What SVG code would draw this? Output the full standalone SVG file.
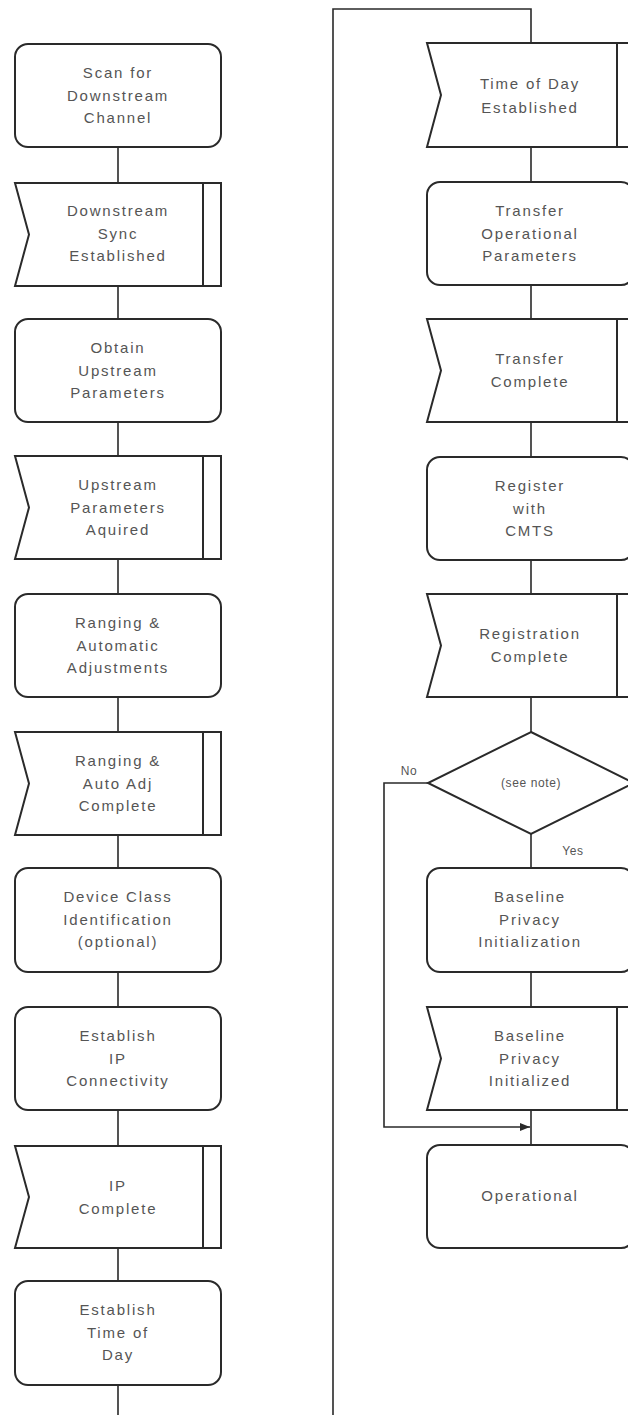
<svg xmlns="http://www.w3.org/2000/svg" width="628" height="1415" viewBox="0 0 628 1415">
<style>
.box{fill:#fff;stroke:#2a2a2a;stroke-width:2}
.in{stroke:#2a2a2a;stroke-width:2;fill:none}
.c{stroke:#2a2a2a;stroke-width:1.6;fill:none}
text{font-family:"Liberation Sans",Arial,sans-serif;font-size:15px;fill:#555;text-anchor:middle;letter-spacing:1.8px}
.sm{font-size:12px;letter-spacing:0.6px}
</style>
<defs>
<marker id="ah" markerWidth="10" markerHeight="8" refX="10" refY="4" orient="auto" markerUnits="userSpaceOnUse">
<path d="M0,0 L10,4 L0,8 Z" fill="#2a2a2a"/>
</marker>
</defs>
<rect width="628" height="1415" fill="#fff"/>
<g id="connectors">
<path class="c" d="M118,147V183M118,286V319M118,422V456M118,559V594M118,697V732M118,835V868M118,972V1007M118,1110V1146M118,1249V1281M118,1385V1415"/>
<path class="c" d="M333,1415V9H531V43M531,147V182M531,285V319M531,422V457M531,560V594M531,697V732M531,834V868M531,972V1007M531,1110V1145"/>
<path class="c" d="M428,783H384V1127H530" marker-end="url(#ah)"/>
<text class="sm" x="409" y="775">No</text>
<text class="sm" x="573" y="855">Yes</text>
</g>
<g id="n1"><rect class="box" x="15" y="44" width="206" height="103" rx="13"/><text x="118" y="78">Scan for</text><text x="118" y="101">Downstream</text><text x="118" y="123">Channel</text></g>
<g id="n2"><path class="box" d="M15,183H221V286H15L29,234.5Z"/><path class="in" d="M203,183V286"/><text x="118" y="216">Downstream</text><text x="118" y="239">Sync</text><text x="118" y="261">Established</text></g>
<g id="n3"><rect class="box" x="15" y="319" width="206" height="103" rx="13"/><text x="118" y="353">Obtain</text><text x="118" y="376">Upstream</text><text x="118" y="398">Parameters</text></g>
<g id="n4"><path class="box" d="M15,456H221V559H15L29,507.5Z"/><path class="in" d="M203,456V559"/><text x="118" y="490">Upstream</text><text x="118" y="513">Parameters</text><text x="118" y="535">Aquired</text></g>
<g id="n5"><rect class="box" x="15" y="594" width="206" height="103" rx="13"/><text x="118" y="628">Ranging &amp;</text><text x="118" y="651">Automatic</text><text x="118" y="673">Adjustments</text></g>
<g id="n6"><path class="box" d="M15,732H221V835H15L29,783.5Z"/><path class="in" d="M203,732V835"/><text x="118" y="766">Ranging &amp;</text><text x="118" y="789">Auto Adj</text><text x="118" y="811">Complete</text></g>
<g id="n7"><rect class="box" x="15" y="868" width="206" height="104" rx="13"/><text x="118" y="902">Device Class</text><text x="118" y="925">Identification</text><text x="118" y="947">(optional)</text></g>
<g id="n8"><rect class="box" x="15" y="1007" width="206" height="103" rx="13"/><text x="118" y="1041">Establish</text><text x="118" y="1064">IP</text><text x="118" y="1086">Connectivity</text></g>
<g id="n9"><path class="box" d="M15,1146H221V1248H15L29,1197Z"/><path class="in" d="M203,1146V1248"/><text x="118" y="1191">IP</text><text x="118" y="1214">Complete</text></g>
<g id="n10"><rect class="box" x="15" y="1281" width="206" height="104" rx="13"/><text x="118" y="1315">Establish</text><text x="118" y="1338">Time of</text><text x="118" y="1360">Day</text></g>
<g id="r1"><path class="box" d="M427,43H634V147H427L441,95Z"/><path class="in" d="M617,43V147"/><text x="530" y="89">Time of Day</text><text x="530" y="113">Established</text></g>
<g id="r2"><rect class="box" x="427" y="182" width="207" height="103" rx="13"/><text x="530" y="216">Transfer</text><text x="530" y="239">Operational</text><text x="530" y="261">Parameters</text></g>
<g id="r3"><path class="box" d="M427,319H634V422H427L441,370.5Z"/><path class="in" d="M617,319V422"/><text x="530" y="364">Transfer</text><text x="530" y="387">Complete</text></g>
<g id="r4"><rect class="box" x="427" y="457" width="207" height="103" rx="13"/><text x="530" y="491">Register</text><text x="530" y="514">with</text><text x="530" y="536">CMTS</text></g>
<g id="r5"><path class="box" d="M427,594H634V697H427L441,645.5Z"/><path class="in" d="M617,594V697"/><text x="530" y="639">Registration</text><text x="530" y="662">Complete</text></g>
<g id="d1"><path class="box" d="M531,732L634,783L531,834L428,783Z"/><text class="sm" x="531" y="787">(see note)</text></g>
<g id="r6"><rect class="box" x="427" y="868" width="207" height="104" rx="13"/><text x="530" y="902">Baseline</text><text x="530" y="925">Privacy</text><text x="530" y="947">Initialization</text></g>
<g id="r7"><path class="box" d="M427,1007H634V1110H427L441,1058.5Z"/><path class="in" d="M617,1007V1110"/><text x="530" y="1041">Baseline</text><text x="530" y="1064">Privacy</text><text x="530" y="1086">Initialized</text></g>
<g id="r8"><rect class="box" x="427" y="1145" width="207" height="103" rx="13"/><text x="530" y="1201">Operational</text></g>
</svg>
